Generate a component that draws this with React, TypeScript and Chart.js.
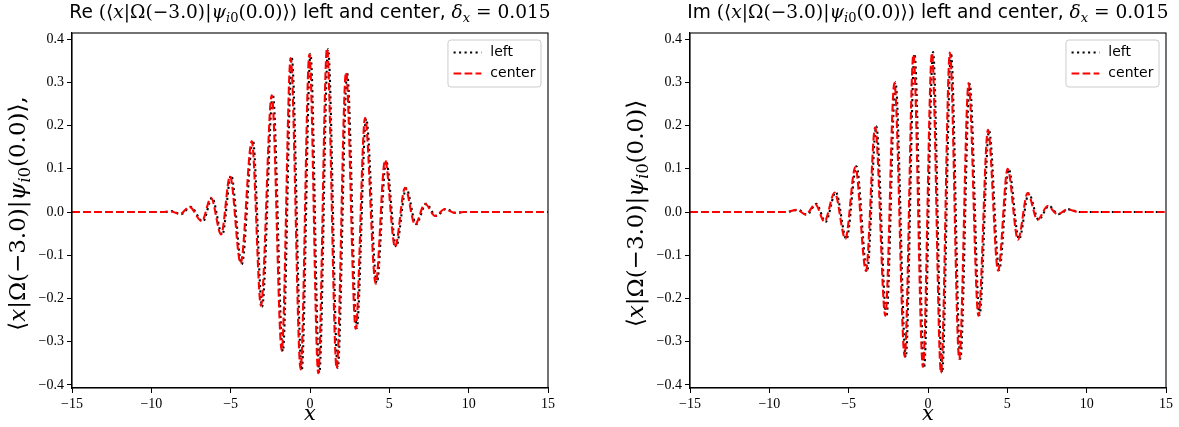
import React, { useEffect, useRef } from 'react';
import { Chart, registerables } from 'chart.js';

Chart.register(...registerables);

// ---------- data ----------
const xTicks = [-15, -10, -5, 0, 5, 10, 15];
const yTicks = [-0.4, -0.3, -0.2, -0.1, 0, 0.1, 0.2, 0.3, 0.4];
const seriesLabels = ['left', 'center'];

// Real part (left panel)
const reCenterX = [-15, -9.2, -8.8, -8.2, -7.6, -6.82, -6.24, -5.6, -5.04, -4.37, -3.67, -3.09, -2.41, -1.78, -1.22, -0.59, -0.04, 0.52, 1.07, 1.68, 2.27, 2.88, 3.47, 4.14, 4.73, 5.36, 5.99, 6.62, 7.25, 7.88, 8.5, 9.1, 9.7, 15];
const reCenterY = [0, 0, 0.002, -0.005, 0.012, -0.021, 0.033, -0.052, 0.083, -0.119, 0.164, -0.217, 0.27, -0.321, 0.356, -0.364, 0.365, -0.373, 0.378, -0.362, 0.323, -0.27, 0.218, -0.166, 0.12, -0.081, 0.056, -0.029, 0.019, -0.009, 0.007, -0.002, 0, 0];
const reLeftX = [-15, -9.1, -8.72, -8.12, -7.53, -6.75, -6.17, -5.53, -4.97, -4.3, -3.6, -3.02, -2.34, -1.71, -1.15, -0.52, 0.03, 0.59, 1.14, 1.75, 2.34, 2.95, 3.54, 4.21, 4.8, 5.43, 6.06, 6.69, 7.32, 7.95, 8.57, 9.17, 9.77, 15];
const reLeftY = [0, 0, 0.002, -0.005, 0.012, -0.022, 0.033, -0.053, 0.085, -0.121, 0.166, -0.219, 0.272, -0.322, 0.357, -0.366, 0.366, -0.372, 0.377, -0.36, 0.321, -0.268, 0.216, -0.164, 0.118, -0.08, 0.055, -0.028, 0.019, -0.009, 0.007, -0.002, 0, 0];

// Imaginary part (right panel)
const imCenterX = [-15, -9.0, -8.25, -7.7, -7.1, -6.53, -5.88, -5.21, -4.58, -3.91, -3.33, -2.69, -2.12, -1.47, -0.92, -0.32, 0.25, 0.82, 1.38, 1.97, 2.56, 3.18, 3.78, 4.42, 5.02, 5.67, 6.28, 6.9, 7.55, 8.15, 8.8, 9.5, 15];
const imCenterY = [0, 0, 0.005, -0.006, 0.018, -0.022, 0.045, -0.062, 0.104, -0.136, 0.196, -0.24, 0.298, -0.334, 0.364, -0.358, 0.368, -0.372, 0.369, -0.34, 0.298, -0.24, 0.19, -0.136, 0.1, -0.064, 0.044, -0.018, 0.014, -0.005, 0.006, 0, 0];
const imLeftX = [-15, -8.93, -8.18, -7.63, -7.03, -6.46, -5.81, -5.14, -4.51, -3.84, -3.26, -2.62, -2.05, -1.4, -0.85, -0.25, 0.32, 0.89, 1.45, 2.04, 2.63, 3.25, 3.85, 4.49, 5.09, 5.74, 6.35, 6.97, 7.62, 8.22, 8.87, 9.57, 15];
const imLeftY = [0, 0, 0.005, -0.006, 0.019, -0.023, 0.046, -0.063, 0.106, -0.138, 0.198, -0.242, 0.3, -0.336, 0.366, -0.36, 0.37, -0.371, 0.368, -0.339, 0.296, -0.238, 0.188, -0.134, 0.099, -0.063, 0.043, -0.018, 0.014, -0.005, 0.006, 0, 0];

// ---------- text ----------
type Seg = { t: string; k: 'sans' | 'rm' | 'it'; sub?: boolean };

const reTitle: Seg[] = [
  { t: 'Re ', k: 'sans' }, { t: '(⟨', k: 'rm' }, { t: 'x', k: 'it' }, { t: '|Ω(−3.0)|', k: 'rm' },
  { t: 'ψ', k: 'it' }, { t: 'i', k: 'it', sub: true }, { t: '0', k: 'rm', sub: true },
  { t: '(0.0)⟩)', k: 'rm' }, { t: ' left and center, ', k: 'sans' }, { t: 'δ', k: 'it' },
  { t: 'x', k: 'it', sub: true }, { t: ' = 0.015', k: 'rm' },
];
const imTitle: Seg[] = [{ t: 'Im ', k: 'sans' }, ...reTitle.slice(1)];
const reYLabel: Seg[] = [
  { t: '⟨', k: 'rm' }, { t: 'x', k: 'it' }, { t: '|Ω(−3.0)|', k: 'rm' }, { t: 'ψ', k: 'it' },
  { t: 'i', k: 'it', sub: true }, { t: '0', k: 'rm', sub: true }, { t: '(0.0)⟩,', k: 'rm' },
];
const imYLabel: Seg[] = [...reYLabel.slice(0, 6), { t: '(0.0)⟩', k: 'rm' }];
const xLabel: Seg[] = [{ t: 'x', k: 'it' }];

const MATH = '"DejaVu Serif", "Liberation Serif", serif';
const TICKF = '"Liberation Serif", "DejaVu Serif", serif';
const SANS = '"DejaVu Sans", "Liberation Sans", sans-serif';

function fontFor(s: Seg, size: number) {
  const sz = s.sub ? size * 0.7 : size;
  if (s.k === 'sans') return `${sz}px ${SANS}`;
  if (s.k === 'it') return `italic ${sz}px ${MATH}`;
  return `${sz}px ${MATH}`;
}

function drawRich(ctx: CanvasRenderingContext2D, segs: Seg[], size: number, cx: number, cy: number, rotate: boolean) {
  ctx.save();
  ctx.translate(cx, cy);
  if (rotate) ctx.rotate(-Math.PI / 2);
  let w = 0;
  for (const s of segs) { ctx.font = fontFor(s, size); w += ctx.measureText(s.t).width; }
  let x = -w / 2;
  ctx.textBaseline = 'middle';
  ctx.textAlign = 'left';
  ctx.fillStyle = '#000';
  for (const s of segs) {
    ctx.font = fontFor(s, size);
    ctx.fillText(s.t, x, s.sub ? size * 0.28 : 0);
    x += ctx.measureText(s.t).width;
  }
  ctx.restore();
}

const fmtMinus = (s: string) => s.replace('-', '−');

function toPts(xs: number[], ys: number[]) {
  return xs.map((x, i) => ({ x, y: ys[i] }));
}

const DOT = [2.1, 3.4];
const DASH = [7.7, 3.3];

function makeConfig(opts: {
  cX: number[]; cY: number[]; lX: number[]; lY: number[];
  padLeft: number; padRight: number; title: Seg[]; ylabel: Seg[];
}): any {
  const deco = {
    id: 'deco',
    afterDraw(chart: any) {
      const ctx: CanvasRenderingContext2D = chart.ctx;
      const a = chart.chartArea;
      // spines
      ctx.save();
      ctx.strokeStyle = '#000';
      ctx.lineWidth = 1.1;
      ctx.strokeRect(a.left, a.top, a.right - a.left, a.bottom - a.top);
      ctx.restore();
      // legend
      const fs = 14;
      ctx.save();
      ctx.font = `${fs}px ${SANS}`;
      const tw = Math.max(...seriesLabels.map((l) => ctx.measureText(l).width));
      const handle = 27.8, gap = 9, pad = 5.6;
      const bw = pad + handle + gap + tw + pad;
      const bh = 47;
      const bx = a.right - 7 - bw;
      const by = a.top + 7;
      ctx.beginPath();
      const r = 3;
      ctx.moveTo(bx + r, by);
      ctx.lineTo(bx + bw - r, by);
      ctx.quadraticCurveTo(bx + bw, by, bx + bw, by + r);
      ctx.lineTo(bx + bw, by + bh - r);
      ctx.quadraticCurveTo(bx + bw, by + bh, bx + bw - r, by + bh);
      ctx.lineTo(bx + r, by + bh);
      ctx.quadraticCurveTo(bx, by + bh, bx, by + bh - r);
      ctx.lineTo(bx, by + r);
      ctx.quadraticCurveTo(bx, by, bx + r, by);
      ctx.closePath();
      ctx.fillStyle = 'rgba(255,255,255,0.8)';
      ctx.fill();
      ctx.strokeStyle = '#cccccc';
      ctx.lineWidth = 1;
      ctx.stroke();
      const rows = [by + 12.5, by + 33.5];
      const styles = [
        { c: '#000000', d: DOT },
        { c: '#ff0000', d: DASH },
      ];
      seriesLabels.forEach((lab, i) => {
        ctx.beginPath();
        ctx.setLineDash(styles[i].d);
        ctx.strokeStyle = styles[i].c;
        ctx.lineWidth = 2.1;
        ctx.moveTo(bx + pad, rows[i]);
        ctx.lineTo(bx + pad + handle, rows[i]);
        ctx.stroke();
        ctx.setLineDash([]);
        ctx.fillStyle = '#000';
        ctx.textBaseline = 'middle';
        ctx.textAlign = 'left';
        ctx.fillText(lab, bx + pad + handle + gap, rows[i]);
      });
      ctx.restore();
      // titles / labels
      const cx = (a.left + a.right) / 2;
      const cy = (a.top + a.bottom) / 2;
      drawRich(ctx, opts.title, 18.6, cx, 13, false);
      drawRich(ctx, opts.ylabel, 23, a.left - 53, cy + 3, true);
      drawRich(ctx, xLabel, 21, cx, 415, false);
    },
  };

  return {
    type: 'line',
    data: {
      datasets: [
        {
          label: seriesLabels[0],
          data: toPts(opts.lX, opts.lY),
          borderColor: '#000000',
          borderWidth: 2.1,
          borderDash: DOT,
          pointRadius: 0,
          fill: false,
          cubicInterpolationMode: 'monotone',
          order: 2,
        },
        {
          label: seriesLabels[1],
          data: toPts(opts.cX, opts.cY),
          borderColor: '#ff0000',
          borderWidth: 2.1,
          borderDash: DASH,
          pointRadius: 0,
          fill: false,
          cubicInterpolationMode: 'monotone',
          order: 1,
        },
      ],
    },
    options: {
      responsive: false,
      animation: false,
      devicePixelRatio: 1,
      layout: { padding: { left: opts.padLeft, right: opts.padRight, top: 33, bottom: 0 } },
      plugins: { legend: { display: false }, tooltip: { enabled: false }, title: { display: false } },
      events: [],
      scales: {
        x: {
          type: 'linear',
          min: -15,
          max: 15,
          grid: { display: true, drawOnChartArea: false, drawTicks: true, tickLength: 5, color: '#000', lineWidth: 1 },
          border: { display: true, color: '#000', width: 1.1 },
          ticks: {
            color: '#000',
            font: { family: TICKF, size: 14 },
            padding: 3,
            maxRotation: 0,
            autoSkip: false,
            callback: (v: any) => fmtMinus(String(v)),
          },
          afterBuildTicks: (s: any) => { s.ticks = xTicks.map((v) => ({ value: v })); },
          afterFit: (s: any) => { s.height = 39; },
        },
        y: {
          type: 'linear',
          min: -0.407,
          max: 0.414,
          grid: { display: true, drawOnChartArea: false, drawTicks: true, tickLength: 5, color: '#000', lineWidth: 1 },
          border: { display: true, color: '#000', width: 1.1 },
          ticks: {
            color: '#000',
            font: { family: TICKF, size: 14 },
            padding: 3,
            autoSkip: false,
            callback: (v: any) => fmtMinus(Number(v).toFixed(1)),
          },
          afterBuildTicks: (s: any) => { s.ticks = yTicks.map((v) => ({ value: v })); },
          afterFit: (s: any) => { s.width = 72; },
        },
      },
    },
    plugins: [deco],
  };
}

function Panel(props: { left: number; width: number; cfg: () => any }) {
  const ref = useRef<HTMLCanvasElement>(null);
  useEffect(() => {
    const chart = new Chart(ref.current as HTMLCanvasElement, props.cfg());
    return () => chart.destroy();
  }, []);
  return (
    <canvas
      ref={ref}
      width={props.width}
      height={427}
      style={{ position: 'absolute', left: props.left, top: 0, width: props.width, height: 427 }}
    />
  );
}

export default function App() {
  return (
    <div style={{ position: 'absolute', left: 0, top: 0, width: 1179, height: 427, background: '#fff' }}>
      <Panel
        left={0}
        width={590}
        cfg={() => makeConfig({ cX: reCenterX, cY: reCenterY, lX: reLeftX, lY: reLeftY, padLeft: 0, padRight: 42, title: reTitle, ylabel: reYLabel })}
      />
      <Panel
        left={590}
        width={589}
        cfg={() => makeConfig({ cX: imCenterX, cY: imCenterY, lX: imLeftX, lY: imLeftY, padLeft: 28, padRight: 13, title: imTitle, ylabel: imYLabel })}
      />
    </div>
  );
}
